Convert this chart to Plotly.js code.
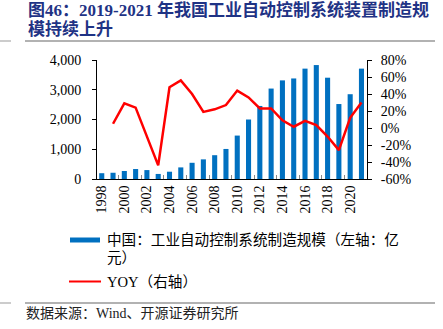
<!DOCTYPE html>
<html>
<head>
<meta charset="utf-8">
<script src="https://cdn.plot.ly/plotly-3.0.1.min.js"></script>
<style>html,body{margin:0;padding:0;background:#fff;}#chart{width:443px;height:329px;}</style>
</head>
<body>
<div id="chart"></div>
<script>
const years = [1998,1999,2000,2001,2002,2003,2004,2005,2006,2007,2008,2009,2010,2011,2012,2013,2014,2015,2016,2017,2018,2019,2020,2021];
const scale = [195,210,270,335,300,170,245,390,545,660,800,1010,1460,2000,2455,3040,3315,3380,3710,3830,3405,2520,2850,3710];
const yoy = [null,0.05,0.29,0.24,-0.11,-0.44,0.48,0.56,0.40,0.19,0.22,0.27,0.44,0.36,0.23,0.23,0.09,0.015,0.085,0.035,-0.10,-0.26,0.12,0.30];
const leftTicks = [0,1000,2000,3000,4000];
const rightTickVals = [-0.6,-0.4,-0.2,0,0.2,0.4,0.6,0.8];
const rightTickText = ["-60%","-40%","-20%","0%","20%","40%","60%","80%"];
const xTicks = [1998,2000,2002,2004,2006,2008,2010,2012,2014,2016,2018,2020];
const barName = "中国：工业自动控制系统制造规模（左轴：亿<br>元）";
const lineName = "YOY（右轴）";
const titleLine1 = "图46：2019-2021 年我国工业自动控制系统装置制造规";
const titleLine2 = "模持续上升";
const sourceText = "数据来源：Wind、开源证券研究所";

const serif = "Liberation Serif, Noto Sans CJK SC, serif";
const traces = [
  {type:"bar", x:years, y:scale, name:barName, marker:{color:"#0070C0"}, width:0.45, yaxis:"y", showlegend:false, hoverinfo:"skip"},
  {type:"scatter", mode:"lines", x:years, y:yoy, name:lineName, line:{color:"#FF0000", width:2.5}, yaxis:"y2", showlegend:false, connectgaps:false, hoverinfo:"skip"}
];
const P = (px)=> (px-97)/270;      // paper x from pixel
const Q = (py)=> (179-py)/119;     // paper y from pixel
const titleFont = {family:"Liberation Serif, Noto Sans CJK SC, serif", size:17, color:"#1F3385", weight:"bold"};
const txtFont = {family:serif, size:14.6, color:"#000"};
const layout = {
  width:443, height:329,
  margin:{l:97, r:76, t:60, b:150},
  paper_bgcolor:"#fff", plot_bgcolor:"#fff",
  font:{family:serif, size:14, color:"#000"},
  xaxis:{range:[1997.58,2021.49], tickvals:xTicks, ticktext:xTicks.map(String), tickangle:-90, ticks:"", showgrid:false, zeroline:false,
         showline:true, linecolor:"#000", linewidth:1, tickfont:{family:serif, size:14},
         minor:{tick0:1999.5, dtick:2, ticks:"inside", ticklen:4, tickcolor:"#888", showgrid:false}},
  yaxis:{range:[0,4000], tickvals:leftTicks, tickformat:",", ticks:"outside", ticklen:4, tickcolor:"#000", showgrid:false, zeroline:false,
         showline:true, linecolor:"#000", linewidth:1, tickfont:{family:serif, size:14}, ticklabelstandoff:8},
  yaxis2:{range:[-0.6,0.8], overlaying:"y", side:"right", tickvals:rightTickVals, ticktext:rightTickText, ticks:"outside", ticklen:4, tickcolor:"#000",
          showgrid:false, zeroline:false, showline:true, linecolor:"#000", linewidth:1, tickfont:{family:serif, size:14}, ticklabelstandoff:6},
  shapes:[
    {type:"line", xref:"paper", yref:"paper", x0:P(0), x1:P(11), y0:Q(41), y1:Q(41), line:{color:"#bbb", width:1.5}},
    {type:"line", xref:"paper", yref:"paper", x0:P(25), x1:P(435), y0:Q(41), y1:Q(41), line:{color:"#999", width:1.5}},
    {type:"rect", xref:"paper", yref:"paper", x0:P(70), x1:P(100), y0:Q(242.5), y1:Q(237.5), fillcolor:"#0070C0", line:{width:0}},
    {type:"line", xref:"paper", yref:"paper", x0:P(69), x1:P(101), y0:Q(281.5), y1:Q(281.5), line:{color:"#FF0000", width:2}},
    {type:"line", xref:"paper", yref:"paper", x0:P(0), x1:P(11), y0:Q(303), y1:Q(303), line:{color:"#bbb", width:1.5}},
    {type:"line", xref:"paper", yref:"paper", x0:P(25), x1:P(435), y0:Q(303), y1:Q(303), line:{color:"#999", width:1.5}}
  ],
  annotations:[
    {xref:"paper", yref:"paper", x:P(26), y:Q(10.5), xanchor:"left", yanchor:"middle", text:titleLine1, showarrow:false, font:titleFont},
    {xref:"paper", yref:"paper", x:P(26), y:Q(29.5), xanchor:"left", yanchor:"middle", text:titleLine2, showarrow:false, font:titleFont},
    {xref:"paper", yref:"paper", x:P(105), y:Q(240), xanchor:"left", yanchor:"middle", text:"中国：工业自动控制系统制造规模（左轴：亿", showarrow:false, font:txtFont},
    {xref:"paper", yref:"paper", x:P(105), y:Q(258), xanchor:"left", yanchor:"middle", text:"元）", showarrow:false, font:txtFont},
    {xref:"paper", yref:"paper", x:P(105), y:Q(282), xanchor:"left", yanchor:"middle", text:lineName, showarrow:false, font:txtFont},
    {xref:"paper", yref:"paper", x:P(24), y:Q(313), xanchor:"left", yanchor:"middle", text:sourceText, showarrow:false, font:{family:serif, size:14, color:"#222"}}
  ]
};
Plotly.newPlot("chart", traces, layout, {displayModeBar:false, staticPlot:true});
</script>
</body>
</html>
